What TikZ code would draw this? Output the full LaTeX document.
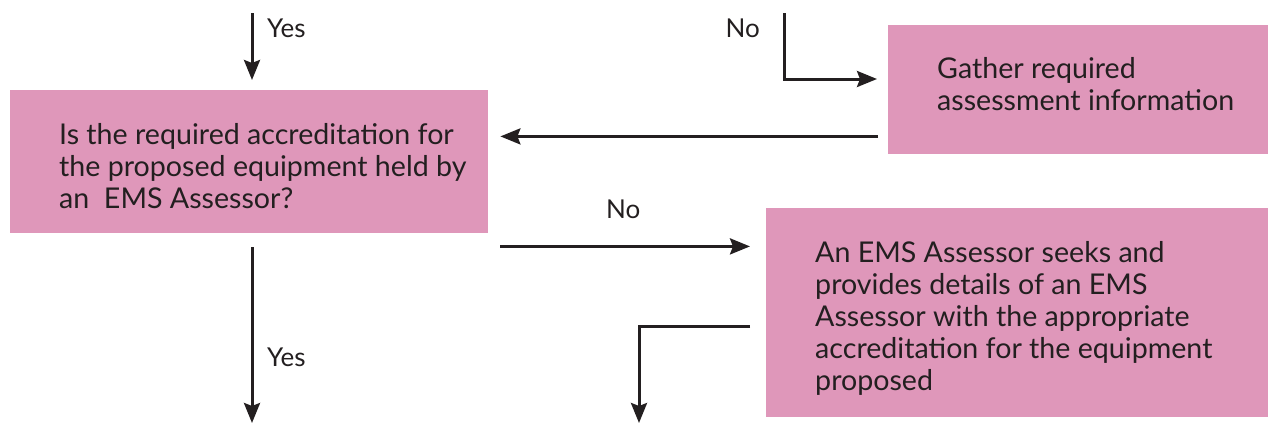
\documentclass[tikz,border=0pt]{standalone}
\usepackage{fontspec}
\setmainfont{Lato}
\usetikzlibrary{arrows.meta}
\definecolor{boxpink}{HTML}{DF97BA}
\definecolor{ink}{HTML}{231F20}
\tikzset{
  pbox/.style={fill=boxpink, draw=none, inner sep=0pt, anchor=north west},
  btxt/.style={text=ink, inner sep=0pt, anchor=north west, align=left, font=\fontsize{28.6}{32}\selectfont},
  lbl/.style={text=ink, inner sep=0pt, font=\fontsize{26}{30}\selectfont},
  arr/.style={draw=ink, line width=3pt, line join=miter, -{Stealth[length=20pt,width=16pt,inset=3pt]}}
}
\begin{document}
\begin{tikzpicture}[x=1pt,y=-1pt]
\useasboundingbox (0,0) rectangle (1268,424);
% boxes
\node[pbox, minimum width=478pt, minimum height=143pt] (qA) at (10,90) {};
\node[pbox, minimum width=380pt, minimum height=129pt] (gB) at (888,25) {};
\node[pbox, minimum width=502pt, minimum height=209pt] (gC) at (766,208) {};
% box texts
\node[btxt] (tA) at (59,123) {Is the required accreditation for\\the proposed equipment held by\\an \ EMS Assessor?};
\node[btxt] (tB) at (937,57) {Gather required\\assessment information};
\node[btxt] (tC) at (815,241) {An EMS Assessor seeks and\\provides details of an EMS\\Assessor with the appropriate\\accreditation for the equipment\\proposed};
% labels
\node[lbl, anchor=base west] (yes1) at (267,37) {Yes};
\node[lbl, anchor=base east] (no1) at (760,37) {No};
\node[lbl, anchor=base west] (no2) at (606,218) {No};
\node[lbl, anchor=base west] (yes2) at (267,366) {Yes};
% connectors
\coordinate (s1) at (252,13);
\draw[arr] (s1) -- ([yshift=10pt]s1 |- qA.north);
\coordinate (s2) at (784,13);
\coordinate (e2) at (877,79);
\draw[arr] (s2) |- (e2);
\path (gB.south west) ++(-10,-18) coordinate (b1);
\draw[arr] (b1) -- ([xshift=12pt]b1 -| qA.east);
\path (qA.south east) ++(12,13) coordinate (c1);
\draw[arr] (c1) -- ([xshift=-16pt]c1 -| gC.west);
\coordinate (e5) at (252,423);
\draw[arr] ([yshift=-14pt]s1 |- qA.south) -- (e5);
\path (gC.north west) ++(-16,118) coordinate (d1);
\coordinate (e6) at (639,423);
\draw[arr] (d1) -| (e6);
\end{tikzpicture}
\end{document}
